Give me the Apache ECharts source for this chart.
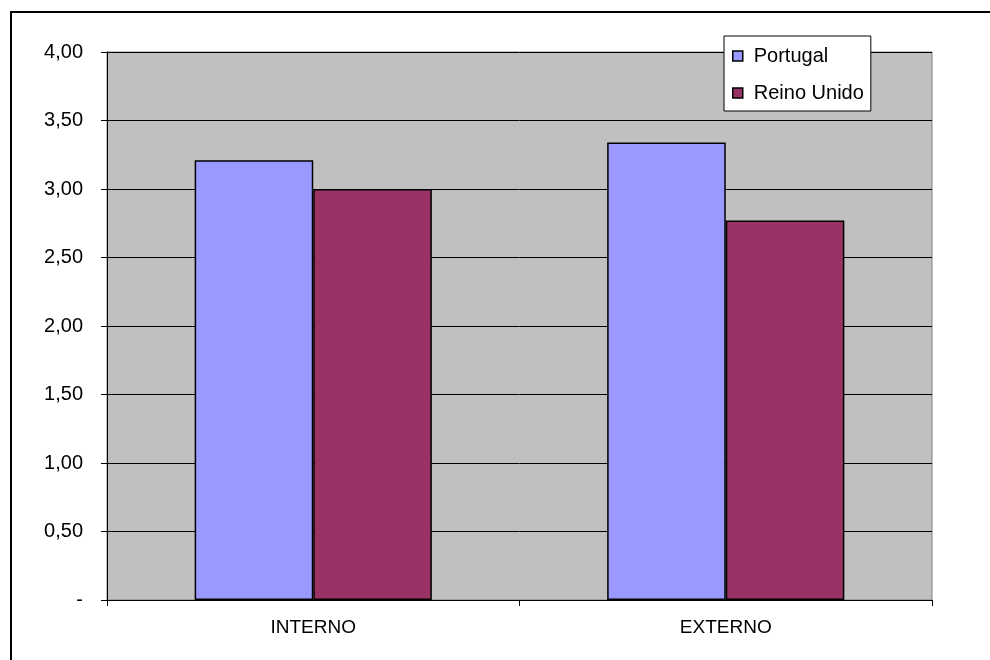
<!DOCTYPE html>
<html>
<head>
<meta charset="utf-8">
<script src="https://cdn.jsdelivr.net/npm/echarts@6/dist/echarts.min.js"></script>
<style>
  html, body { margin: 0; padding: 0; background: #ffffff; }
  #chart { width: 990px; height: 660px; }
</style>
</head>
<body>
<div id="chart"></div>
<script>
// Categories and values per country
var categories = ['INTERNO', 'EXTERNO'];
var portugal = [3.21, 3.34];
var reinoUnido = [3.00, 2.77];
var seriesNames = ['Portugal', 'Reino Unido'];

var FONT = '"Liberation Sans", Arial, sans-serif';

var chart = echarts.init(document.getElementById('chart'), null, { renderer: 'canvas' });

chart.setOption({
  backgroundColor: '#ffffff',
  animation: false,
  textStyle: { fontFamily: FONT },
  graphic: [{
    // outer chart frame (top and left edges; the rest runs past the canvas)
    type: 'polyline',
    z: 100, silent: true,
    shape: { points: [[11, 700], [11, 12], [1000, 12]] },
    style: { fill: 'none', stroke: '#000000', lineWidth: 2 }
  }],
  grid: {
    left: 107, right: 58, top: 52, bottom: 60,
    show: true,
    backgroundColor: '#C0C0C0',
    borderColor: '#808080',
    borderWidth: 1
  },
  legend: {
    orient: 'vertical',
    left: 724, top: 36,
    padding: [10, 7, 8, 8],
    itemGap: 17,
    itemWidth: 10,
    itemHeight: 10,
    icon: 'rect',
    backgroundColor: '#ffffff',
    borderColor: '#000000',
    borderWidth: 1,
    borderRadius: 0,
    textStyle: { fontFamily: FONT, fontSize: 20, color: '#000000', lineHeight: 20, padding: [0, 0, 0, 6] },
    itemStyle: { borderColor: '#000000', borderWidth: 1.5 },
    data: seriesNames
  },
  xAxis: {
    type: 'category',
    data: categories,
    axisLine: { lineStyle: { color: '#000000', width: 1 } },
    axisTick: { show: true, length: 6, lineStyle: { color: '#000000' } },
    axisLabel: { fontFamily: FONT, fontSize: 19, color: '#000000', margin: 18 },
    splitLine: { show: false }
  },
  yAxis: {
    type: 'value',
    min: 0, max: 4, interval: 0.5,
    axisLine: { show: true, lineStyle: { color: '#000000', width: 1 } },
    axisTick: { show: true, length: 6, lineStyle: { color: '#000000' } },
    axisLabel: {
      fontFamily: FONT, fontSize: 20, color: '#000000', margin: 24,
      formatter: function (v) { return v === 0 ? '-' : v.toFixed(2).replace('.', ','); }
    },
    splitLine: { show: true, lineStyle: { color: '#000000', width: 1 } }
  },
  series: [
    {
      name: seriesNames[0], type: 'bar', data: portugal,
      barGap: '0%', barCategoryGap: '42.5%',
      itemStyle: { color: '#9999FF', borderColor: '#000000', borderWidth: 1.5 }
    },
    {
      name: seriesNames[1], type: 'bar', data: reinoUnido,
      itemStyle: { color: '#993366', borderColor: '#000000', borderWidth: 1.5 }
    }
  ]
});
</script>
</body>
</html>
